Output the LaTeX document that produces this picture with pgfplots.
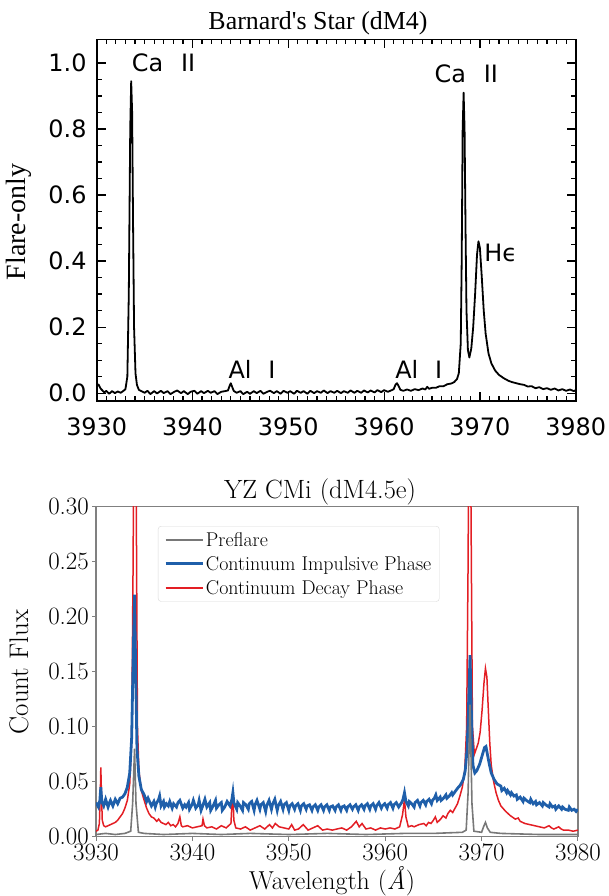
\documentclass[border=0pt]{standalone}
\usepackage{fontspec}
\usepackage{pgfplots}
\pgfplotsset{compat=1.18}
\newfontfamily\idl{DejaVu Sans}
\newfontfamily\tms{Liberation Serif}
\definecolor{cblue}{RGB}{31,95,170}
\definecolor{cred}{RGB}{227,30,36}
\definecolor{cgray}{RGB}{128,128,128}
\definecolor{pgray}{RGB}{120,120,120}

\pgfplotstableread{
x y
3930.0 0.020
3930.2 0.026
3930.4 0.014
3930.6 0.008
3930.8 0.002
3931.0 0.007
3931.3 -0.002
3931.6 0.006
3931.9 0.000
3932.2 0.005
3932.5 0.001
3932.8 0.007
3933.0 0.012
3933.2 0.050
3933.35 0.300
3933.5 0.800
3933.6 0.945
3933.7 0.850
3933.8 0.500
3933.9 0.200
3934.05 0.060
3934.2 0.025
3934.4 0.010
3934.6 0.007
3935.0 0.001
3935.3 0.007
3935.6 -0.003
3936.0 0.006
3936.3 -0.001
3936.7 0.007
3937.0 0.000
3937.4 0.006
3937.7 -0.003
3938.1 0.004
3938.4 0.008
3938.8 0.000
3939.1 0.006
3939.5 -0.003
3939.8 0.004
3940.2 0.007
3940.5 -0.002
3940.9 0.006
3941.2 0.000
3941.6 0.007
3941.9 0.001
3942.3 0.006
3942.6 -0.003
3943.0 0.004
3943.4 0.006
3943.7 0.008
3943.9 0.024
3944.0 0.030
3944.1 0.022
3944.3 0.007
3944.6 0.001
3945.0 0.006
3945.3 -0.003
3945.7 0.004
3946.0 -0.002
3946.4 0.006
3946.7 0.000
3947.1 0.007
3947.4 -0.002
3947.8 0.004
3948.1 0.007
3948.5 0.000
3948.8 0.006
3949.2 -0.002
3949.5 0.007
3949.9 0.001
3950.2 0.006
3950.6 -0.002
3950.9 0.007
3951.3 0.001
3951.6 0.006
3952.0 -0.002
3952.3 0.007
3952.7 0.000
3953.0 0.006
3953.4 0.001
3953.7 0.008
3954.1 0.000
3954.4 0.006
3954.8 0.001
3955.1 0.007
3955.5 0.000
3955.8 0.006
3956.2 0.001
3956.5 0.008
3956.9 0.001
3957.2 0.007
3957.6 0.001
3957.9 0.008
3958.3 0.002
3958.6 0.008
3959.0 0.002
3959.3 0.009
3959.7 0.003
3960.0 0.009
3960.4 0.004
3960.8 0.009
3961.0 0.012
3961.2 0.026
3961.35 0.030
3961.5 0.022
3961.7 0.010
3962.0 0.007
3962.4 0.011
3962.8 0.007
3963.2 0.012
3963.6 0.009
3964.0 0.014
3964.3 0.011
3964.5 0.019
3964.7 0.013
3965.0 0.016
3965.4 0.016
3965.8 0.021
3966.2 0.021
3966.6 0.027
3967.0 0.029
3967.3 0.033
3967.6 0.042
3967.8 0.060
3968.0 0.150
3968.1 0.400
3968.2 0.800
3968.3 0.910
3968.4 0.800
3968.5 0.500
3968.6 0.250
3968.75 0.130
3968.9 0.108
3969.1 0.135
3969.3 0.200
3969.5 0.300
3969.7 0.420
3969.85 0.460
3970.0 0.440
3970.2 0.350
3970.4 0.250
3970.6 0.180
3970.9 0.120
3971.2 0.090
3971.6 0.068
3972.0 0.055
3972.5 0.045
3973.0 0.037
3973.4 0.033
3973.8 0.030
3974.2 0.027
3974.6 0.025
3975.0 0.020
3975.4 0.021
3975.8 0.015
3976.2 0.018
3976.6 0.012
3977.0 0.015
3977.4 0.010
3977.8 0.014
3978.2 0.008
3978.6 0.012
3979.0 0.007
3979.4 0.011
3979.8 0.006
3980.0 0.009
}\barnard

\pgfplotstableread{
x y
3930.00 0.031
3930.25 0.027
3930.40 0.033
3930.50 0.045
3930.60 0.032
3930.80 0.028
3931.00 0.034
3931.25 0.027
3931.40 0.031
3931.50 0.033
3931.75 0.028
3932.00 0.034
3932.25 0.030
3932.50 0.035
3932.75 0.036
3933.00 0.039
3933.25 0.045
3933.50 0.058
3933.70 0.090
3933.85 0.160
3934.00 0.220
3934.10 0.160
3934.25 0.080
3934.45 0.055
3934.70 0.043
3935.00 0.038
3935.25 0.032
3935.40 0.035
3935.50 0.033
3935.75 0.028
3936.00 0.032
3936.15 0.027
3936.25 0.030
3936.50 0.034
3936.60 0.037
3936.75 0.028
3937.00 0.032
3937.10 0.027
3937.30 0.030
3937.50 0.028
3937.65 0.032
3937.90 0.026
3938.05 0.030
3938.35 0.027
3938.50 0.031
3938.70 0.033
3939.00 0.026
3939.20 0.029
3939.35 0.027
3939.60 0.031
3939.70 0.025
3940.00 0.030
3940.10 0.033
3940.35 0.026
3940.60 0.029
3940.70 0.033
3940.90 0.024
3941.15 0.030
3941.30 0.034
3941.50 0.027
3941.80 0.031
3941.90 0.024
3942.15 0.028
3942.40 0.033
3942.50 0.026
3942.75 0.029
3943.00 0.031
3943.10 0.024
3943.35 0.027
3943.60 0.032
3943.90 0.028
3944.10 0.034
3944.20 0.040
3944.30 0.031
3944.60 0.025
3944.70 0.031
3944.95 0.028
3945.20 0.024
3945.30 0.031
3945.55 0.029
3945.80 0.025
3945.90 0.030
3946.15 0.032
3946.40 0.024
3946.50 0.029
3946.70 0.033
3947.00 0.025
3947.10 0.029
3947.35 0.031
3947.60 0.023
3947.70 0.028
3947.95 0.033
3948.20 0.025
3948.30 0.029
3948.55 0.034
3948.80 0.024
3948.90 0.028
3949.15 0.032
3949.40 0.025
3949.50 0.029
3949.75 0.031
3950.00 0.024
3950.10 0.028
3950.35 0.030
3950.60 0.025
3950.70 0.028
3950.95 0.030
3951.20 0.024
3951.30 0.028
3951.55 0.030
3951.80 0.025
3951.90 0.028
3952.15 0.029
3952.40 0.024
3952.50 0.027
3952.75 0.029
3953.00 0.024
3953.10 0.027
3953.35 0.029
3953.60 0.024
3953.70 0.027
3953.95 0.029
3954.20 0.024
3954.30 0.027
3954.55 0.028
3954.80 0.024
3954.90 0.027
3955.15 0.029
3955.40 0.024
3955.50 0.027
3955.75 0.028
3956.00 0.024
3956.10 0.027
3956.35 0.029
3956.60 0.025
3956.70 0.027
3956.95 0.029
3957.20 0.024
3957.30 0.027
3957.55 0.029
3957.80 0.025
3957.90 0.028
3958.15 0.030
3958.40 0.025
3958.50 0.028
3958.75 0.030
3959.00 0.025
3959.10 0.028
3959.35 0.031
3959.60 0.026
3959.70 0.028
3959.95 0.030
3960.20 0.026
3960.30 0.029
3960.55 0.031
3960.80 0.026
3960.90 0.029
3961.15 0.031
3961.40 0.027
3961.70 0.031
3961.85 0.034
3962.00 0.040
3962.15 0.032
3962.40 0.028
3962.50 0.032
3962.75 0.030
3963.00 0.027
3963.10 0.031
3963.35 0.033
3963.60 0.028
3963.70 0.031
3963.95 0.033
3964.20 0.029
3964.30 0.032
3964.55 0.034
3964.80 0.030
3964.90 0.033
3965.10 0.035
3965.25 0.038
3965.40 0.033
3965.70 0.036
3965.80 0.033
3966.05 0.035
3966.30 0.038
3966.40 0.035
3966.65 0.037
3966.90 0.040
3967.00 0.038
3967.25 0.041
3967.50 0.044
3967.80 0.047
3968.10 0.052
3968.30 0.060
3968.50 0.080
3968.65 0.120
3968.80 0.165
3968.95 0.110
3969.10 0.065
3969.30 0.058
3969.50 0.060
3969.80 0.066
3970.10 0.075
3970.30 0.081
3970.45 0.082
3970.60 0.075
3970.80 0.066
3971.00 0.058
3971.30 0.052
3971.60 0.048
3972.00 0.046
3972.10 0.042
3972.35 0.044
3972.60 0.040
3972.70 0.042
3973.00 0.038
3973.10 0.040
3973.35 0.037
3973.60 0.038
3973.70 0.034
3974.00 0.036
3974.30 0.032
3974.40 0.035
3974.65 0.033
3975.00 0.031
3975.10 0.034
3975.35 0.030
3975.60 0.032
3975.70 0.029
3976.00 0.031
3976.30 0.028
3976.40 0.031
3976.65 0.029
3977.00 0.027
3977.10 0.030
3977.35 0.027
3977.60 0.028
3977.70 0.025
3978.00 0.028
3978.30 0.025
3978.40 0.027
3978.65 0.025
3979.00 0.024
3979.10 0.027
3979.35 0.024
3979.60 0.025
3979.80 0.023
3980.00 0.025
}\impulsive

\pgfplotstableread{
x y
3930.00 0.005
3930.20 0.006
3930.35 0.012
3930.45 0.040
3930.50 0.063
3930.55 0.045
3930.65 0.015
3930.80 0.010
3931.00 0.009
3931.25 0.010
3931.50 0.011
3931.75 0.012
3932.00 0.013
3932.25 0.015
3932.50 0.018
3932.75 0.021
3933.00 0.026
3933.25 0.033
3933.50 0.048
3933.70 0.090
3933.85 0.250
3934.00 0.500
3934.15 0.350
3934.30 0.100
3934.45 0.060
3934.70 0.042
3935.00 0.033
3935.25 0.026
3935.50 0.021
3935.75 0.018
3936.00 0.017
3936.30 0.014
3936.50 0.016
3936.75 0.013
3937.00 0.012
3937.25 0.011
3937.50 0.013
3937.75 0.010
3938.00 0.011
3938.25 0.009
3938.50 0.012
3938.70 0.018
3938.85 0.010
3939.00 0.009
3939.50 0.010
3940.00 0.008
3940.50 0.009
3941.00 0.010
3941.10 0.016
3941.25 0.010
3941.50 0.008
3942.00 0.009
3942.50 0.007
3943.00 0.010
3943.50 0.008
3944.00 0.012
3944.10 0.030
3944.20 0.040
3944.30 0.015
3944.50 0.008
3945.00 0.007
3945.50 0.009
3946.00 0.006
3946.50 0.008
3947.00 0.010
3947.50 0.007
3948.00 0.011
3948.30 0.008
3948.60 0.012
3949.00 0.009
3949.50 0.008
3950.00 0.007
3950.30 0.011
3950.60 0.006
3951.00 0.007
3951.50 0.011
3952.00 0.006
3952.50 0.008
3953.00 0.010
3953.50 0.006
3954.00 0.007
3954.50 0.006
3955.00 0.007
3955.50 0.008
3956.00 0.006
3956.50 0.009
3957.00 0.014
3957.30 0.009
3957.60 0.012
3958.00 0.007
3958.50 0.008
3959.00 0.006
3959.50 0.008
3960.00 0.007
3960.50 0.008
3961.00 0.007
3961.50 0.009
3961.80 0.020
3962.00 0.034
3962.15 0.018
3962.40 0.009
3962.75 0.010
3963.00 0.009
3963.50 0.011
3964.00 0.012
3964.25 0.010
3964.50 0.013
3964.75 0.012
3965.00 0.015
3965.20 0.018
3965.40 0.013
3965.75 0.016
3966.00 0.019
3966.30 0.017
3966.50 0.021
3966.75 0.024
3967.00 0.022
3967.25 0.026
3967.50 0.030
3967.75 0.037
3968.00 0.045
3968.25 0.060
3968.45 0.100
3968.60 0.250
3968.75 0.500
3968.90 0.300
3969.05 0.100
3969.25 0.075
3969.45 0.080
3969.65 0.085
3969.85 0.095
3970.05 0.115
3970.25 0.140
3970.40 0.153
3970.55 0.145
3970.70 0.115
3970.85 0.085
3971.00 0.065
3971.25 0.050
3971.50 0.040
3971.75 0.033
3972.00 0.028
3972.50 0.023
3973.00 0.019
3973.50 0.016
3973.80 0.017
3974.00 0.014
3974.50 0.012
3975.00 0.011
3975.50 0.010
3976.00 0.009
3976.50 0.008
3977.00 0.010
3977.25 0.008
3977.50 0.007
3978.00 0.009
3978.25 0.007
3978.50 0.006
3979.00 0.006
3979.50 0.005
3980.00 0.006
}\decay

\pgfplotstableread{
x y
3930.0 0.002
3931.0 0.003
3932.0 0.002
3933.0 0.003
3933.6 0.005
3933.8 0.030
3934.0 0.080
3934.15 0.030
3934.4 0.004
3935.0 0.003
3937.0 0.002
3940.0 0.003
3943.0 0.002
3946.0 0.003
3950.0 0.002
3954.0 0.003
3958.0 0.002
3962.0 0.003
3965.0 0.003
3968.0 0.004
3968.4 0.006
3968.6 0.040
3968.8 0.120
3969.0 0.030
3969.2 0.005
3970.0 0.004
3970.2 0.009
3970.4 0.013
3970.6 0.008
3970.9 0.004
3972.0 0.003
3976.0 0.002
3980.0 0.002
}\preflare

\begin{document}
\begin{tikzpicture}
\useasboundingbox (0bp,0bp) rectangle (609bp,-896bp);
\node[font=\tms\fontsize{26}{26}\selectfont] at (318bp,-23bp) {Barnard's Star (dM4)};
\node[font=\tms\fontsize{28}{28}\selectfont, rotate=90] at (19bp,-222bp) {Flare-only};
\begin{axis}[at={(96.7bp,-400.7bp)}, anchor=south west, scale only axis,
  width=479bp, height=361.4bp,
  xmin=3930, xmax=3980, ymin=-0.023, ymax=1.072,
  xtick={3930,3940,3950,3960,3970,3980}, ytick={0,0.2,0.4,0.6,0.8,1.0},
  minor x tick num=9, minor y tick num=3,
  tick align=inside, major tick length=9bp, minor tick length=5bp,
  axis line style={line width=1.6bp},
  every tick/.append style={black, line width=1.2bp},
  tick label style={font=\idl\fontsize{24}{24}\selectfont, inner sep=0pt},
  xticklabel style={yshift=-17bp, /pgf/number format/1000 sep={}},
  yticklabel style={xshift=-10bp, /pgf/number format/.cd, fixed, fixed zerofill, precision=1},
  /pgf/number format/assume math mode=true,
]
\addplot[black, line width=1.8bp, line join=round] table[x=x,y=y] {\barnard};
\node[anchor=base west, font=\idl\fontsize{24}{24}\selectfont] at (axis cs:3933.3,0.973) {Ca\hspace{0.75em}II};
\node[anchor=base west, font=\idl\fontsize{24}{24}\selectfont] at (axis cs:3964.9,0.942) {Ca\hspace{0.75em}II};
\node[anchor=base west, font=\idl\fontsize{24}{24}\selectfont] at (axis cs:3970.1,0.40) {Hϵ};
\node[anchor=base west, font=\idl\fontsize{24}{24}\selectfont] at (axis cs:3943.4,0.045) {Al\hspace{0.7em}I};
\node[anchor=base west, font=\idl\fontsize{24}{24}\selectfont] at (axis cs:3960.8,0.045) {Al\hspace{0.7em}I};
\end{axis}

\node[font=\fontsize{26.5}{26.5}\selectfont] at (320bp,-492bp) {YZ CMi (dM4.5e)};
\node[font=\fontsize{27}{27}\selectfont, rotate=90] at (19bp,-672bp) {Count Flux};
\node[font=\fontsize{26}{26}\selectfont] at (332bp,-881bp) {Wavelength (\textit{Å})};
\begin{axis}[at={(96bp,-836.7bp)}, anchor=south west, scale only axis,
  width=482bp, height=330bp,
  xmin=3930, xmax=3980, ymin=0, ymax=0.30,
  xtick={3930,3940,3950,3960,3970,3980},
  ytick={0,0.05,0.10,0.15,0.20,0.25,0.30},
  xtick pos=bottom, ytick pos=left, tick align=outside, major tick length=4bp,
  axis line style={cgray, line width=1.2bp},
  every tick/.append style={cgray, line width=1bp},
  tick label style={font=\fontsize{25}{25}\selectfont, inner sep=0pt},
  xticklabel style={yshift=-3bp, /pgf/number format/1000 sep={}},
  yticklabel style={xshift=-3bp, /pgf/number format/.cd, fixed, fixed zerofill, precision=2},
  /pgf/number format/assume math mode=true,
  legend cell align=left, reverse legend,
  legend style={at={(0.1286,0.9415)}, anchor=north west, draw=black!15, fill=white,
    rounded corners=3bp, font=\fontsize{20}{20}\selectfont, row sep=4.5bp,
    inner xsep=6bp, inner ysep=4bp},
  legend image code/.code={\draw[#1] (0bp,0bp) -- (37bp,0bp);},
]
\addplot[cred, line width=1.5bp] table[x=x,y=y] {\decay};
\addlegendentry{Continuum Decay Phase}
\addplot[cblue, line width=2.8bp] table[x=x,y=y] {\impulsive};
\addlegendentry{Continuum Impulsive Phase}
\addplot[pgray, line width=1.6bp] table[x=x,y=y] {\preflare};
\addlegendentry{Preflare}
\end{axis}
\end{tikzpicture}
\end{document}
